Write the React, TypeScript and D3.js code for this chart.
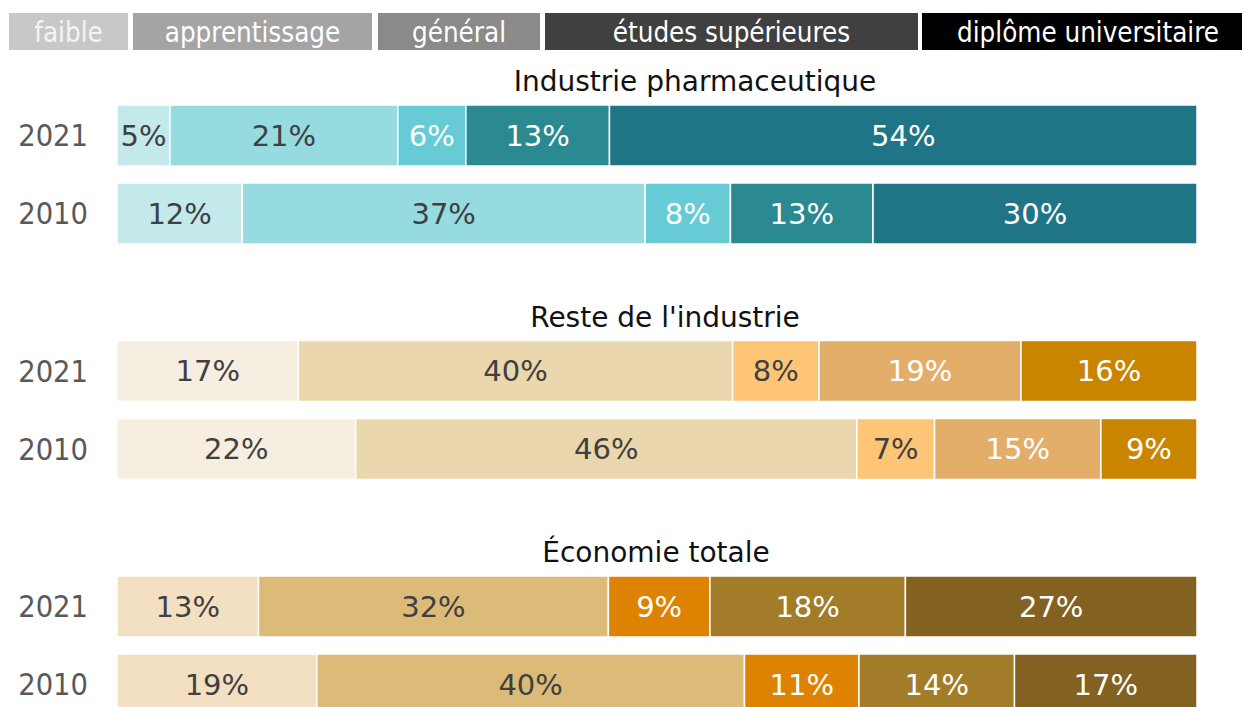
import React, { useEffect, useRef } from "react";
import * as d3 from "d3";

// education levels (legend)
const levels = ["faible", "apprentissage", "général", "études supérieures", "diplôme universitaire"];
const years = ["2021", "2010"];
const panels = ["Industrie pharmaceutique", "Reste de l'industrie", "Économie totale"];

// shares in %, per year, per level
const pharma2021 = [4.9, 21.1, 6.3, 13.3, 54.4];
const pharma2010 = [11.6, 37.3, 7.9, 13.2, 30.0];
const reste2021 = [16.8, 40.2, 8.0, 18.7, 16.3];
const reste2010 = [22.1, 46.4, 7.2, 15.4, 8.9];
const eco2021 = [13.1, 32.4, 9.4, 18.1, 27.0];
const eco2010 = [18.5, 39.6, 10.6, 14.4, 16.9];

const panelValues = [
  [pharma2021, pharma2010],
  [reste2021, reste2010],
  [eco2021, eco2010],
];

const legendColors = ["#c8c8c8", "#a4a4a4", "#8a8a8a", "#404040", "#000000"];
const palettes = [
  ["#c3e9eb", "#96dbe0", "#66cbd4", "#2b8a91", "#1f7585"],
  ["#f6eee0", "#ead7ad", "#fec577", "#e2ae69", "#c98500"],
  ["#f3dfc1", "#dcbb78", "#dd8301", "#a27c29", "#826121"],
];
const darkLabels = [
  [true, true, false, false, false],
  [true, true, true, false, false],
  [true, true, false, false, false],
];

const CONDENSED = "'DejaVu Sans Condensed', 'DejaVu Sans', sans-serif";
const REGULAR = "'DejaVu Sans', sans-serif";

const App = () => {
  const ref = useRef<SVGSVGElement>(null);

  useEffect(() => {
    const width = 1242;
    const height = 707;
    const svg = d3.select(ref.current).attr("width", width).attr("height", height);
    svg.selectAll("*").remove();

    // legend (last box runs past the right edge)
    const legendX = [9, 133, 378, 545, 922];
    const legendW = [119, 239, 162, 373, 332];
    const lg = svg.append("g").attr("transform", "translate(0,13)");
    const items = lg
      .selectAll("g")
      .data(levels)
      .join("g")
      .attr("transform", (d, i) => `translate(${legendX[i]},0)`);
    items
      .append("rect")
      .attr("width", (d, i) => legendW[i])
      .attr("height", 37)
      .attr("fill", (d, i) => legendColors[i]);
    items
      .append("text")
      .attr("x", (d, i) => legendW[i] / 2)
      .attr("y", 29)
      .attr("text-anchor", "middle")
      .attr("font-family", CONDENSED)
      .attr("font-size", 27.5)
      .attr("fill", (d, i) => (i === 0 ? "#f4f4f4" : "#ffffff"))
      .text((d) => d);

    const x = d3.scaleLinear().domain([0, 100]).range([117, 1197]);
    const panelY = d3.scaleLinear().domain([0, 1]).range([105, 340.5]);
    const rowY = d3.scaleBand().domain(years).range([0, 139]).paddingInner(17 / 78);
    const titleX = [695, 665, 656];

    panelValues.forEach((rows, p) => {
      const g = svg.append("g").attr("transform", `translate(0,${panelY(p)})`);

      g.append("text")
        .attr("x", titleX[p])
        .attr("y", -14)
        .attr("text-anchor", "middle")
        .attr("font-family", REGULAR)
        .attr("font-size", 28)
        .attr("fill", "#111")
        .text(panels[p]);

      rows.forEach((vals, r) => {
        const y0 = rowY(years[r]) as number;
        const bw = rowY.bandwidth();
        const stack = d3.cumsum(vals);
        const segs = vals.map((v, i) => ({ v, i, start: stack[i] - v, end: stack[i] }));

        g.append("text")
          .attr("x", 88)
          .attr("y", y0 + bw / 2)
          .attr("dy", "0.36em")
          .attr("text-anchor", "end")
          .attr("font-family", CONDENSED)
          .attr("font-size", 30.5)
          .attr("fill", "#595959")
          .text(years[r]);

        const row = g.append("g");
        row
          .selectAll("rect")
          .data(segs)
          .join("rect")
          .attr("x", (d) => x(d.start))
          .attr("y", y0)
          .attr("width", (d) => x(d.end) - x(d.start))
          .attr("height", bw)
          .attr("fill", (d) => palettes[p][d.i])
          .attr("stroke", "#ffffff")
          .attr("stroke-width", 1.5);

        row
          .selectAll("text")
          .data(segs)
          .join("text")
          .attr("x", (d) => (x(d.start) + x(d.end)) / 2)
          .attr("y", y0 + bw / 2)
          .attr("dy", "0.36em")
          .attr("text-anchor", "middle")
          .attr("font-family", REGULAR)
          .attr("font-size", 29)
          .attr("fill", (d) => (darkLabels[p][d.i] ? "#404040" : "#ffffff"))
          .text((d) => `${Math.round(d.v)}%`);
      });
    });
  }, []);

  return (
    <div style={{ position: "absolute", left: 0, top: 0 }}>
      <svg ref={ref} style={{ display: "block" }}></svg>
    </div>
  );
};

export default App;
